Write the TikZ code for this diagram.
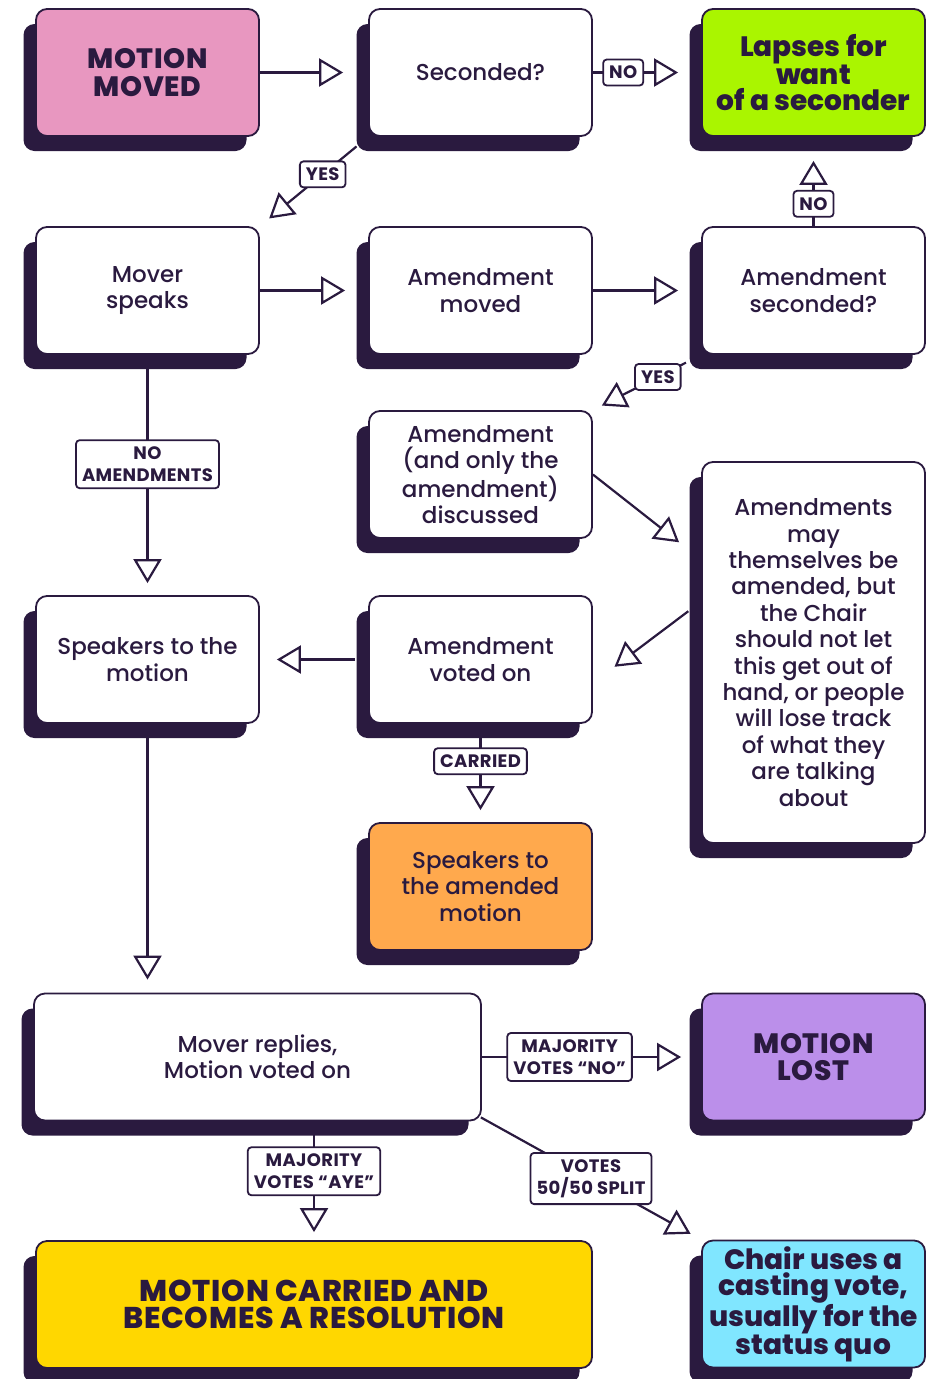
\documentclass[tikz,border=0pt]{standalone}
\usepackage{fontspec}
\setmainfont{Poppins Medium}[BoldFont={Poppins ExtraBold}]
\newfontfamily\lblfont{Poppins Bold}[LetterSpace=2]
\newfontfamily\capsfont{Poppins ExtraBold}[LetterSpace=2.5]
\usetikzlibrary{arrows.meta,shadows,calc}
\definecolor{dk}{HTML}{2A1A3F}
\definecolor{cpink}{HTML}{E897C0}
\definecolor{cgreen}{HTML}{AAF500}
\definecolor{corange}{HTML}{FFA94D}
\definecolor{cpurple}{HTML}{BB8FEA}
\definecolor{cyellow}{HTML}{FFD700}
\definecolor{ccyan}{HTML}{80E6FF}
\begin{document}
\begin{tikzpicture}[x=1pt,y=-1pt,
 box/.style={draw=dk, line width=1.8pt, rounded corners=11pt, fill=white,
   minimum width=223pt, minimum height=127pt, align=center, text=dk,
   font=\fontsize{23}{26.4}\selectfont, inner sep=0pt,
   general shadow={fill=dk, shadow xshift=-12.5pt, shadow yshift=-15pt}},
 big/.style={font=\fontsize{28}{26.5}\selectfont\bfseries},
 caps/.style={font=\fontsize{28}{27.5}\selectfont\capsfont},
 lbl/.style={draw=dk, line width=1.8pt, rounded corners=3.5pt, fill=white, text=dk,
   align=center, font=\fontsize{18}{22}\selectfont\lblfont, inner xsep=6pt, inner ysep=6.5pt},
 con/.style={draw=dk, line width=2.2pt, -{Triangle[length=24pt,width=28pt,fill=white]}},
]
\useasboundingbox (0,0) rectangle (934,1379);

% row 1
\node[box, caps, fill=cpink] (mm) at (147.5,72.5) {MOTION\\MOVED};
\node[box] (sec) at (480.5,72.5) {Seconded?};
\node[box, big, fill=cgreen] (lap) at (813.5,72.5) {Lapses for\\want\\of a seconder};
% row 2
\node[box] (ms) at (147.5,290.5) {Mover\\speaks};
\node[box] (am) at (480.5,290.5) {Amendment\\moved};
\node[box] (as) at (813.5,290.5) {Amendment\\seconded?};
% row 3
\node[box] (disc) at (480.5,474.5) {Amendment\\(and only the\\amendment)\\discussed};
\node[box, minimum height=381pt] (may) at (813.5,652.5) {Amendments\\may\\themselves be\\amended, but\\the Chair\\should not let\\this get out of\\hand, or people\\will lose track\\of what they\\are talking\\about};
% row 4
\node[box] (stm) at (147.5,659.5) {Speakers to the\\motion};
\node[box] (vot) at (480.5,659.5) {Amendment\\voted on};
\node[box, fill=corange] (samd) at (480.5,886.5) {Speakers to\\the amended\\motion};
% row 5
\node[box, minimum width=447pt] (rep) at (257.5,1057) {Mover replies,\\Motion voted on};
\node[box, caps, fill=cpurple] (lost) at (813.5,1057) {MOTION\\LOST};
% row 6
\node[box, minimum width=556pt, fill=cyellow, font=\fontsize{30}{27.5}\selectfont\capsfont] (car) at (314,1304.5) {MOTION CARRIED AND\\BECOMES A RESOLUTION};
\node[box, big, fill=ccyan] (chair) at (813.5,1304) {Chair uses a\\casting vote,\\usually for the\\status quo};

% helper coordinates
\coordinate (mayin) at ($(may.north west)+(0,98.5)$);
\coordinate (mayout) at ($(may.north west)+(0,140.5)$);
\coordinate (votin) at ($(vot.east)+(0,23.5)$);
\coordinate (repcorner) at ($(rep.south east)+(-1,-4)$);

% connectors
\draw[con, shorten >=25pt] (mm.east) -- (sec.west);
\draw[con, shorten >=23pt] (sec.east) -- node[lbl, pos=0.28] {NO} (lap.west);
\draw[con, shorten <=15pt, shorten >=12pt] (sec.south west) -- node[lbl, pos=0.42] {YES} (ms.north east);
\draw[con, shorten >=23pt] (ms.east) -- (am.west);
\draw[con, shorten >=23pt] (am.east) -- (as.west);
\draw[con, shorten >=24pt] (as.north) -- node[lbl, pos=0.25] {NO} (lap.south);
\draw[con, shorten <=17pt, shorten >=10pt] (as.south west) -- node[lbl, pos=0.40] {YES} (disc.north east);
\draw[con, shorten >=28pt] (disc.east) -- (mayin);
\draw[con, shorten <=16pt, shorten >=27pt] (mayout) -- (votin);
\draw[con, shorten >=12pt] (ms.south) -- node[lbl, pos=0.455] {NO\\AMENDMENTS} (stm.north);
\draw[con, shorten <=13pt, shorten >=17pt] (vot.west) -- (stm.east);
\draw[con, shorten >=12pt] (vot.south) -- node[lbl, pos=0.38] {CARRIED} (samd.north);
\draw[con, shorten >=13pt] (stm.south) -- (stm.south |- rep.north);
\draw[con, shorten >=20pt] (rep.east) -- node[lbl, pos=0.40] {MAJORITY\\VOTES “NO”} (lost.west);
\draw[con, shorten >=8pt] (car.north |- rep.south) -- node[lbl, pos=0.42] {MAJORITY\\VOTES “AYE”} (car.north);
\draw[con, shorten >=12pt] (repcorner) -- node[lbl, pos=0.5] {VOTES\\50/50 SPLIT} (chair.north west);
\end{tikzpicture}
\end{document}
